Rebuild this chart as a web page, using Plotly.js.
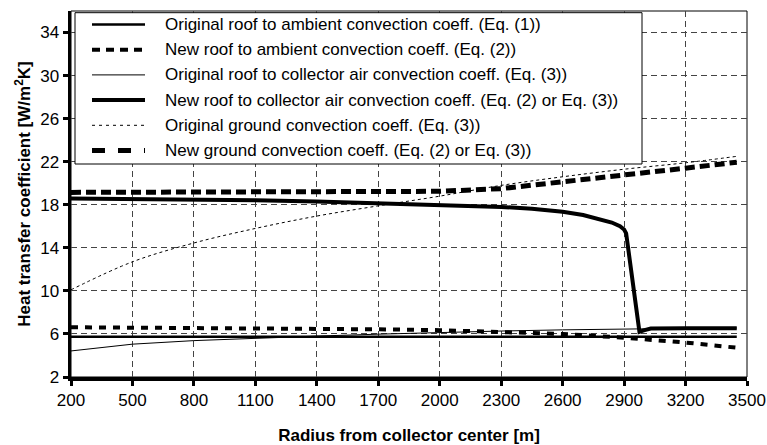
<!DOCTYPE html>
<html>
<head>
<meta charset="utf-8">
<script src="https://cdn.plot.ly/plotly-3.0.1.min.js"></script>
<style>html,body{margin:0;padding:0;background:#fff;}#chart{width:767px;height:445px;}</style>
</head>
<body>
<div id="chart"></div>
<script>
// Data
const radius = [200, 500, 800, 1100, 1400, 1700, 2000, 2300, 2600, 2900, 3200, 3450];
const origRoofAmbient = [5.75, 5.75, 5.75, 5.75, 5.75, 5.75, 5.75, 5.75, 5.75, 5.75, 5.75, 5.75];
const newRoofAmbient = [6.62, 6.6, 6.58, 6.55, 6.52, 6.43, 6.35, 6.2, 6.0, 5.65, 5.2, 4.72];
const origRoofCollector = [4.42, 5.05, 5.38, 5.62, 5.8, 5.98, 6.15, 6.27, 6.38, 6.47, 6.52, 6.55];
const origGround = [10.1, 12.7, 14.45, 15.8, 16.95, 17.9, 18.8, 19.8, 20.6, 21.3, 21.9, 22.5];
const newGround = [19.15, 19.15, 19.15, 19.15, 19.2, 19.2, 19.25, 19.5, 20.1, 20.75, 21.4, 21.95];

const radiusFine = [200, 500, 800, 1100, 1400, 1700, 2000, 2300, 2450, 2600, 2700, 2780, 2840, 2880, 2900, 2910, 2975, 3000, 3030, 3200, 3450];
const newRoofCollector = [18.58, 18.55, 18.5, 18.42, 18.3, 18.15, 17.98, 17.8, 17.62, 17.35, 17.05, 16.7, 16.35, 16.0, 15.7, 15.35, 6.2, 6.35, 6.5, 6.52, 6.52];

const seriesNames = [
  "Original roof to ambient convection coeff. (Eq. (1))",
  "New roof to ambient convection coeff. (Eq. (2))",
  "Original roof to collector air convection coeff. (Eq. (3))",
  "New roof to collector air convection coeff. (Eq. (2) or Eq. (3))",
  "Original ground convection coeff. (Eq. (3))",
  "New ground convection coeff. (Eq. (2) or Eq. (3))"
];
const xTicks = [200, 500, 800, 1100, 1400, 1700, 2000, 2300, 2600, 2900, 3200, 3500];
const yTicks = [2, 6, 10, 14, 18, 22, 26, 30, 34];

// Line styles (plot) and matching legend-sample styles
const plotLines = [
  {color: '#000', width: 2.5},
  {color: '#000', width: 4, dash: '7px,7px'},
  {color: '#000', width: 1},
  {color: '#000', width: 4},
  {color: '#000', width: 1, dash: '3px,3px', shape: 'spline'},
  {color: '#000', width: 5, dash: '10px,5px'}
];
const legendLines = [
  {color: '#000', width: 2.5},
  {color: '#000', width: 4, dash: '8px,6px'},
  {color: '#000', width: 1},
  {color: '#000', width: 4},
  {color: '#000', width: 1, dash: '3px,4px'},
  {color: '#000', width: 5, dash: '13px,13px'}
];

const xs = [radius, radius, radius, radiusFine, radius, radius];
const ys = [origRoofAmbient, newRoofAmbient, origRoofCollector, newRoofCollector, origGround, newGround];

const traces = ys.map((y, i) => ({
  type: 'scatter', mode: 'lines', hoverinfo: 'skip', showlegend: false,
  x: xs[i], y: y, name: seriesNames[i], line: plotLines[i]
}));

// Plot area geometry (pixels) for converting the hand-built legend into paper coords
const M = {l: 71, r: 20, t: 11, b: 68};
const W = 767, H = 445;
const pw = W - M.l - M.r, ph = H - M.t - M.b;
const px = v => (v - M.l) / pw;
const py = v => (H - M.b - v) / ph;

const legendBox = {x0: 75, x1: 642, y0: 12.7, y1: 164};
const rowY = [24.5, 49.7, 74.9, 100.1, 125.3, 150.5];

const shapes = [
  {type: 'rect', xref: 'paper', yref: 'paper', x0: 0, x1: 1, y0: 0, y1: 1, line: {color: '#000', width: 1}, layer: 'below'},
  {type: 'rect', xref: 'paper', yref: 'paper', x0: px(legendBox.x0), x1: px(legendBox.x1), y0: py(legendBox.y1), y1: py(legendBox.y0),
   line: {color: '#000', width: 1}, fillcolor: '#fff', layer: 'above'}
];
const annotations = [];
rowY.forEach((ry, i) => {
  const ln = legendLines[i];
  shapes.push({type: 'line', xref: 'paper', yref: 'paper', x0: px(92), x1: px(145), y0: py(ry), y1: py(ry),
    line: {color: ln.color, width: ln.width, dash: ln.dash || 'solid'}, layer: 'above'});
  annotations.push({xref: 'paper', yref: 'paper', x: px(163), y: py(ry), xanchor: 'left', yanchor: 'middle',
    text: seriesNames[i], showarrow: false, font: {size: 17, color: '#000'}});
});

const layout = {
  width: W, height: H,
  margin: M,
  paper_bgcolor: '#fff', plot_bgcolor: '#fff',
  font: {family: 'Liberation Sans, Arial, sans-serif', color: '#000', size: 17},
  showlegend: false,
  xaxis: {
    range: [200, 3500], tickvals: xTicks, ticktext: xTicks.map(String),
    showline: true, linecolor: '#000', linewidth: 3.5,
    ticks: 'outside', ticklen: 5, tickwidth: 3, tickcolor: '#000',
    showgrid: true, gridcolor: '#444', gridwidth: 1, griddash: '6px,4px',
    zeroline: false, tickfont: {size: 17},
    title: {text: '<b>Radius from collector center [m]</b>', font: {size: 17}, standoff: 23}
  },
  yaxis: {
    range: [2, 36], tickvals: yTicks, ticktext: yTicks.map(String),
    showline: true, linecolor: '#000', linewidth: 3.5,
    ticks: 'outside', ticklen: 5, tickwidth: 3, tickcolor: '#000',
    showgrid: true, gridcolor: '#444', gridwidth: 1, griddash: '6px,4px',
    zeroline: false, tickfont: {size: 17},
    title: {text: '<b>Heat transfer coefficient [W/m<sup>2</sup>K]</b>', font: {size: 17}, standoff: 6}
  },
  shapes: shapes,
  annotations: annotations
};

Plotly.newPlot('chart', traces, layout, {displayModeBar: false, staticPlot: true});
</script>
</body>
</html>
